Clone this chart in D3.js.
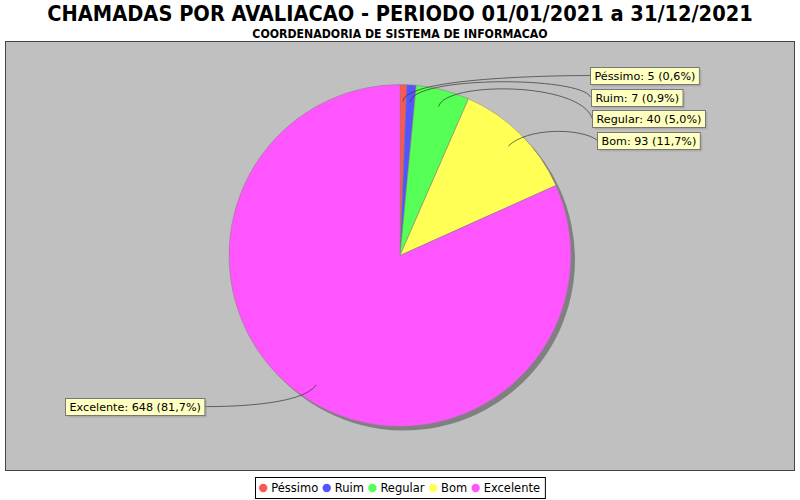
<!DOCTYPE html>
<html><head><meta charset="utf-8">
<script src="https://cdn.jsdelivr.net/npm/d3@7"></script>
<style>body{margin:0;background:#fff;} svg{display:block;}</style>
</head><body>
<svg id="c" width="800" height="500"></svg>
<script>
const categories = ["Péssimo", "Ruim", "Regular", "Bom", "Excelente"];
const values = [5, 7, 40, 93, 648];
const percents = ["0,6%", "0,9%", "5,0%", "11,7%", "81,7%"];
const colors = ["#FF5555", "#5555FF", "#55FF55", "#FFFF55", "#FF55FF"];
const title = "CHAMADAS POR AVALIACAO - PERIODO 01/01/2021 a 31/12/2021";
const subtitle = "COORDENADORIA DE SISTEMA DE INFORMACAO";

const svg = d3.select("#c");
const W = 800, H = 500;
const plot = {x: 5.5, y: 41.5, w: 789, h: 429};
const cx = 400, cy = 255.5, r = 171;
const linkR = 180;

svg.append("text").attr("x", W/2).attr("y", 21).attr("text-anchor", "middle")
  .style("font-family", "'DejaVu Sans Condensed','DejaVu Sans'").style("font-weight", "bold")
  .style("font-size", "21.6px").text(title);
svg.append("text").attr("x", W/2).attr("y", 37.5).attr("text-anchor", "middle")
  .style("font-family", "'DejaVu Sans Condensed','DejaVu Sans'").style("font-weight", "bold")
  .style("font-size", "12.2px").text(subtitle);

svg.append("rect").attr("x", plot.x).attr("y", plot.y).attr("width", plot.w).attr("height", plot.h)
  .attr("fill", "#C0C0C0").attr("stroke", "#444").attr("stroke-width", 1);

const data = categories.map((c, i) => ({cat: c, value: values[i], pct: percents[i], color: colors[i]}));
const pie = d3.pie().value(d => d.value).sort(null);
const arcs = pie(data);
const arc = d3.arc().innerRadius(0).outerRadius(r);

const g = svg.append("g");
g.selectAll("path.sh").data(arcs).join("path").attr("class", "sh")
  .attr("transform", `translate(${cx+4},${cy+4})`).attr("d", arc).attr("fill", "#808080");
g.selectAll("path.sl").data(arcs).join("path").attr("class", "sl")
  .attr("transform", `translate(${cx},${cy})`).attr("d", arc).attr("fill", d => d.data.color)
  .attr("stroke", "#808080").attr("stroke-width", 0.5);

const font = "'DejaVu Sans', sans-serif";
const fs = 11.2;
const boxH = 17, spacing = 21.5;
const labels = arcs.map(a => {
  const mid = (a.startAngle + a.endAngle) / 2;
  const right = Math.sin(mid) >= 0;
  return {
    a, mid, right,
    text: `${a.data.cat}: ${a.data.value} (${a.data.pct})`,
    linkX: cx + Math.sin(mid) * r * 0.9, linkY: cy - Math.cos(mid) * r * 0.9,
    elbowX: cx + Math.sin(mid) * linkR, elbowY: cy - Math.cos(mid) * linkR,
    y: cy - Math.cos(mid) * linkR
  };
});
["right", "left"].forEach(side => {
  const L = labels.filter(l => (side === "right") === l.right).sort((p, q) => p.y - q.y);
  for (let i = 1; i < L.length; i++) if (L[i].y < L[i-1].y + spacing) L[i].y = L[i-1].y + spacing;
});

const lg = svg.append("g");
labels.forEach(l => {
  const deg = l.mid * 180 / Math.PI;
  const tmp = lg.append("text").style("font-family", font).style("font-size", fs + "px").text(l.text);
  const tw = tmp.node().getComputedTextLength();
  tmp.remove();
  const bw = tw + 8;
  let bx, targetX, anchorX;
  if (l.right) { bx = cx + 190 + 0.157 * deg; targetX = bx; anchorX = cx + linkR; }
  else { bx = cx - 196 - bw; targetX = bx + bw; anchorX = cx - linkR; }
  const path = d3.path();
  path.moveTo(targetX, l.y);
  path.bezierCurveTo(anchorX, l.elbowY, l.elbowX, l.elbowY, l.linkX, l.linkY);
  lg.append("path").attr("d", path.toString()).attr("fill", "none").attr("stroke", "#333").attr("stroke-width", 0.7);
  const by = Math.round(l.y - boxH / 2) + 0.5;
  const bxr = Math.round(bx) + 0.5;
  lg.append("rect").attr("x", bxr + 2).attr("y", by + 2).attr("width", bw).attr("height", boxH)
    .attr("fill", "rgba(151,151,151,0.5)");
  lg.append("rect").attr("x", bxr).attr("y", by).attr("width", bw).attr("height", boxH)
    .attr("fill", "#FFFFC0").attr("stroke", "#777").attr("stroke-width", 1);
  lg.append("text").attr("x", bxr + 4).attr("y", by + 12.5).style("font-family", font)
    .style("font-size", fs + "px").attr("fill", "#000").text(l.text);
});

// legend
const leg = svg.append("g");
const lfs = 11.5;
const items = [];
let x = 7.7;
data.forEach(d => {
  const t = leg.append("text").style("font-family", font).style("font-size", lfs + "px").text(d.cat);
  const tw = t.node().getComputedTextLength();
  t.remove();
  items.push({d, x, tw});
  x += 8 + tw + 8.5;
});
const legW = x - 8.5 + 5.3;
const lx0 = Math.round(W / 2 - legW / 2) + 0.5;
const ly0 = 477.5;
leg.append("rect").attr("x", lx0).attr("y", ly0).attr("width", legW).attr("height", 21)
  .attr("fill", "#fff").attr("stroke", "#000").attr("stroke-width", 1);
items.forEach(it => {
  const ix = lx0 + it.x;
  leg.append("circle").attr("cx", ix).attr("cy", ly0 + 10.5).attr("r", 4.2).attr("fill", it.d.color);
  leg.append("text").attr("x", ix + 8).attr("y", ly0 + 14.8).style("font-family", font)
    .style("font-size", lfs + "px").text(it.d.cat);
});
</script>
</body></html>
